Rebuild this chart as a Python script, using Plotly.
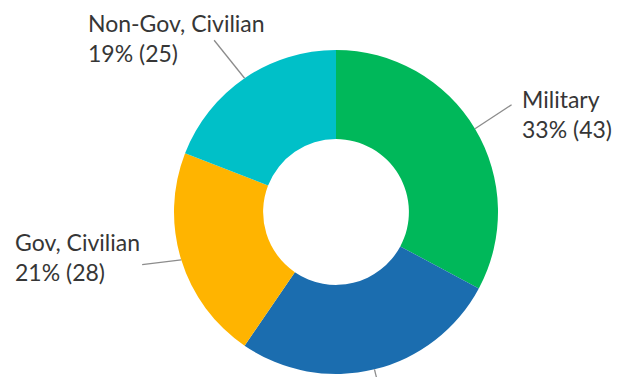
import math
import plotly.graph_objects as go

# ---- data ----
categories = ["Military", "Contractor", "Gov, Civilian", "Non-Gov, Civilian"]
values = [43, 35, 28, 25]
colors = ["#00B85A", "#1B6DAF", "#FFB400", "#00C0C8"]
label_visible = [True, False, True, True]  # the blue slice's label lies below the cropped picture

W, H = 620, 377
CX, CY, R = 336, 212, 162  # pie centre and radius in px

fig = go.Figure(go.Pie(
    labels=categories, values=values, hole=0.45, sort=False,
    direction="clockwise", rotation=0,
    marker=dict(colors=colors, line=dict(width=0)),
    textinfo="none", hoverinfo="label+value+percent",
    domain=dict(x=[(CX - R) / W, (CX + R) / W], y=[1 - (CY + R) / H, 1 - (CY - R) / H]),
))

total = sum(values)
# leader style per slice: (end radius factor, angle tweak deg, text dx, text dy, xanchor)
leader = [
    (1.27, -0.5, 8, 9, "left"),
    (1.25, 0.0, 0, 70, "center"),
    (1.24, 2.0, 0, -8, "right"),
    (1.30, -1.0, 53, -2, "right"),
]

def px2paper(x, y):
    return x / W, 1 - y / H

shapes, annotations = [], []
cum = 0
for cat, v, vis, (rf, dth, tdx, tdy, xa) in zip(categories, values, label_visible, leader):
    mid = (cum + v / 2) / total * 360
    cum += v
    a0 = math.radians(mid)
    sx, sy = CX + R * math.sin(a0), CY - R * math.cos(a0)
    a1 = math.radians(mid + dth)
    ex, ey = CX + R * rf * math.sin(a1), CY - R * rf * math.cos(a1)
    x0, y0 = px2paper(sx, sy)
    x1, y1 = px2paper(ex, ey)
    shapes.append(dict(type="line", xref="paper", yref="paper", x0=x0, y0=y0, x1=x1, y1=y1,
                       line=dict(color="#8C8C8C", width=1.3)))
    if not vis:
        continue
    pct = round(100 * v / total)
    tx, ty = px2paper(ex + tdx, ey + tdy)
    annotations.append(dict(
        xref="paper", yref="paper", x=tx, y=ty, xanchor=xa, yanchor="middle",
        text=f"{cat}<br>{pct}% ({v})", showarrow=False, align="left",
        font=dict(family="Lato", size=23, color="#363636"),
    ))

fig.update_layout(
    width=W, height=H, margin=dict(l=0, r=0, t=0, b=0),
    paper_bgcolor="white", plot_bgcolor="white", showlegend=False,
    shapes=shapes, annotations=annotations,
)
fig.write_html("out.html")
